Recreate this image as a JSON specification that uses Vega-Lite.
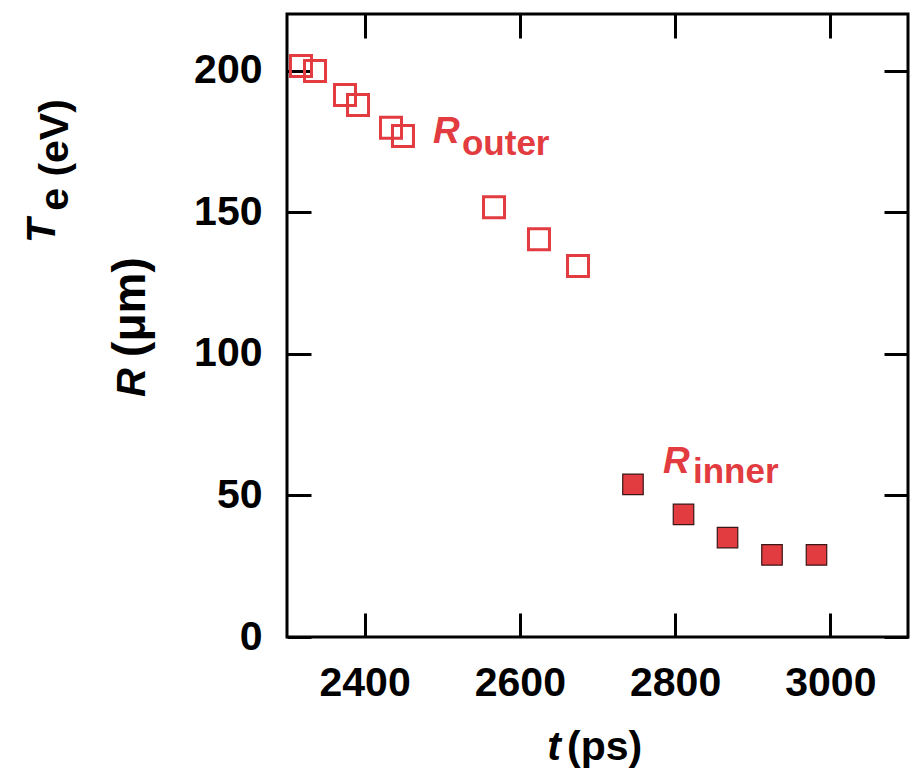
{
  "$schema": "https://vega.github.io/schema/vega-lite/v6.json",
  "width": 621,
  "height": 623,
  "autosize": {"type": "none"},
  "padding": {"left": 287, "top": 14, "right": 5, "bottom": 133},
  "background": "white",
  "config": {
    "view": {"stroke": "#000000", "strokeWidth": 3},
    "font": "Liberation Sans",
    "axis": {
      "domain": false,
      "grid": false,
      "ticks": true,
      "tickColor": "#000000",
      "tickWidth": 3,
      "tickSize": -24,
      "labelFont": "Liberation Sans",
      "labelFontSize": 41,
      "labelFontWeight": "bold",
      "labelColor": "#000000",
      "title": null
    }
  },
  "datasets": {
    "outer": [
      {"t": 2318.0, "R": 201.6},
      {"t": 2336.1, "R": 199.9},
      {"t": 2374.7, "R": 191.4},
      {"t": 2391.5, "R": 187.9},
      {"t": 2434.0, "R": 179.8},
      {"t": 2449.4, "R": 176.9},
      {"t": 2566.7, "R": 151.8},
      {"t": 2624.6, "R": 140.5},
      {"t": 2674.9, "R": 131.0}
    ],
    "inner": [
      {"t": 2745.7, "R": 53.9},
      {"t": 2810.8, "R": 43.3},
      {"t": 2867.5, "R": 35.1},
      {"t": 2924.8, "R": 29.0},
      {"t": 2982.1, "R": 29.0}
    ]
  },
  "resolve": {"axis": {"x": "independent", "y": "independent"}},
  "layer": [
    {
      "data": {"name": "outer"},
      "mark": {"type": "point", "shape": "square", "filled": false, "stroke": "#e23b40", "strokeWidth": 3, "size": 441, "opacity": 1},
      "encoding": {
        "x": {"field": "t", "type": "quantitative", "scale": {"domain": [2300, 3100], "nice": false, "zero": false},
              "axis": {"orient": "bottom", "values": [2400, 2600, 2800, 3000], "labelPadding": 50, "format": "d"}},
        "y": {"field": "R", "type": "quantitative", "scale": {"domain": [0, 220], "nice": false},
              "axis": {"orient": "left", "values": [0, 50, 100, 150, 200], "labelPadding": 49, "format": "d"}}
      }
    },
    {
      "data": {"name": "inner"},
      "mark": {"type": "point", "shape": "square", "filled": true, "fill": "#e23b40", "stroke": "#3a1616", "strokeWidth": 1.2, "size": 420, "opacity": 1},
      "encoding": {
        "x": {"field": "t", "type": "quantitative", "scale": {"domain": [2300, 3100], "nice": false, "zero": false},
              "axis": {"orient": "top", "values": [2400, 2600, 2800, 3000], "labels": false}},
        "y": {"field": "R", "type": "quantitative", "scale": {"domain": [0, 220], "nice": false},
              "axis": {"orient": "right", "values": [0, 50, 100, 150, 200], "labels": false}}
      }
    },
    {
      "data": {"values": [{"label": "R", "t": 2488, "v": 174.4}, {"label": "R", "t": 2784.4, "v": 57.9}]},
      "mark": {"type": "text", "align": "left", "baseline": "alphabetic", "fontSize": 37, "fontStyle": "italic", "fontWeight": "bold", "color": "#e23b40"},
      "encoding": {
        "x": {"field": "t", "type": "quantitative", "axis": null, "scale": {"domain": [2300, 3100], "nice": false, "zero": false}},
        "y": {"field": "v", "type": "quantitative", "axis": null, "scale": {"domain": [0, 220], "nice": false}},
        "text": {"field": "label"}
      }
    },
    {
      "data": {"values": [{"label": "outer", "t": 2525.4, "v": 170.2}, {"label": "inner", "t": 2823.0, "v": 54.4}]},
      "mark": {"type": "text", "align": "left", "baseline": "alphabetic", "fontSize": 35, "fontWeight": "bold", "color": "#e23b40"},
      "encoding": {
        "x": {"field": "t", "type": "quantitative", "axis": null, "scale": {"domain": [2300, 3100], "nice": false, "zero": false}},
        "y": {"field": "v", "type": "quantitative", "axis": null, "scale": {"domain": [0, 220], "nice": false}},
        "text": {"field": "label"}
      }
    },
    {
      "data": {"values": [{"label": "t", "t": 2653, "v": -43.4}]},
      "mark": {"type": "text", "align": "right", "baseline": "alphabetic", "fontSize": 41, "fontStyle": "italic", "fontWeight": "bold", "color": "#000000"},
      "encoding": {
        "x": {"field": "t", "type": "quantitative", "axis": null, "scale": {"domain": [2300, 3100], "nice": false, "zero": false}},
        "y": {"field": "v", "type": "quantitative", "axis": null, "scale": {"domain": [0, 220], "nice": false}},
        "text": {"field": "label"}
      }
    },
    {
      "data": {"values": [{"label": "(ps)", "t": 2660.7, "v": -43.4}]},
      "mark": {"type": "text", "align": "left", "baseline": "alphabetic", "fontSize": 41, "fontWeight": "bold", "color": "#000000"},
      "encoding": {
        "x": {"field": "t", "type": "quantitative", "axis": null, "scale": {"domain": [2300, 3100], "nice": false, "zero": false}},
        "y": {"field": "v", "type": "quantitative", "axis": null, "scale": {"domain": [0, 220], "nice": false}},
        "text": {"field": "label"}
      }
    },
    {
      "data": {"values": [{"label": "T", "t": 2001.1, "v": 139.1}, {"label": "R", "t": 2117.1, "v": 84.75}]},
      "mark": {"type": "text", "align": "left", "baseline": "alphabetic", "angle": 270, "fontSize": 40, "fontStyle": "italic", "fontWeight": "bold", "color": "#000000"},
      "encoding": {
        "x": {"field": "t", "type": "quantitative", "axis": null, "scale": {"domain": [2300, 3100], "nice": false, "zero": false}},
        "y": {"field": "v", "type": "quantitative", "axis": null, "scale": {"domain": [0, 220], "nice": false}},
        "text": {"field": "label"}
      }
    },
    {
      "data": {"values": [{"label": "e (eV)", "t": 2017.9, "v": 150.5}]},
      "mark": {"type": "text", "align": "left", "baseline": "alphabetic", "angle": 270, "fontSize": 41, "fontWeight": "bold", "color": "#000000"},
      "encoding": {
        "x": {"field": "t", "type": "quantitative", "axis": null, "scale": {"domain": [2300, 3100], "nice": false, "zero": false}},
        "y": {"field": "v", "type": "quantitative", "axis": null, "scale": {"domain": [0, 220], "nice": false}},
        "text": {"field": "label"}
      }
    },
    {
      "data": {"values": [{"label": "(μm)", "t": 2117.1, "v": 98.9}]},
      "mark": {"type": "text", "align": "left", "baseline": "alphabetic", "angle": 270, "fontSize": 46, "fontWeight": "bold", "color": "#000000"},
      "encoding": {
        "x": {"field": "t", "type": "quantitative", "axis": null, "scale": {"domain": [2300, 3100], "nice": false, "zero": false}},
        "y": {"field": "v", "type": "quantitative", "axis": null, "scale": {"domain": [0, 220], "nice": false}},
        "text": {"field": "label"}
      }
    }
  ]
}
